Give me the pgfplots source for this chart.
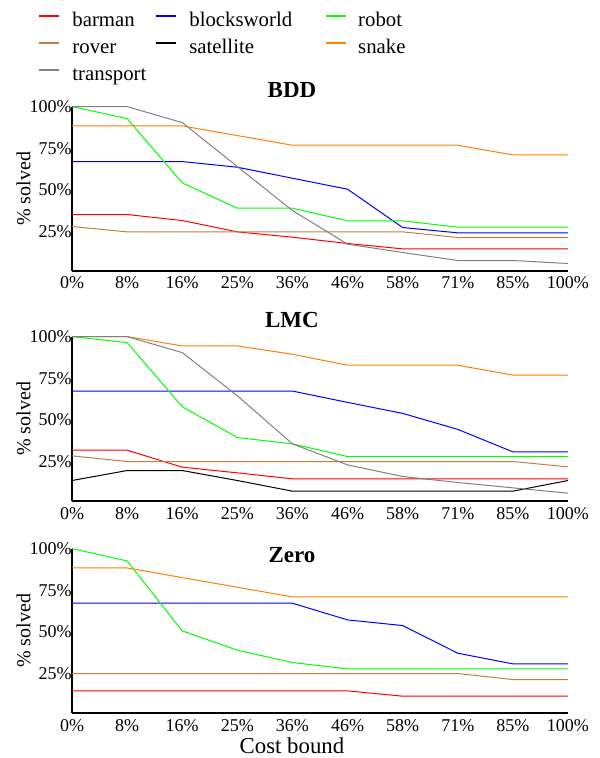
\documentclass[border=0pt]{standalone}
\usepackage{fontspec}
\setmainfont{Liberation Serif}
\usepackage{pgfplots}
\usepackage{pgfplotstable}
\pgfplotsset{compat=1.18}

% x: 0..9 = cost bound 0%,8%,16%,25%,36%,46%,58%,71%,85%,100%
\pgfplotstableread{
x barman blocks robot rover snake transport
0 35.2 67.0 100.0 28.0 88.4 100.0
1 35.2 67.0 92.8 24.8 88.4 100.0
2 31.6 67.0 54.2 24.8 88.4 90.4
3 24.8 63.6 39.0 24.8 82.6 64.0
4 21.6 57.0 39.0 24.8 76.8 37.6
5 17.8 50.4 31.4 24.8 76.8 17.4
6 14.6 27.4 31.4 24.8 76.8 12.4
7 14.6 24.2 27.6 21.4 76.8 7.6
8 14.6 24.2 27.6 21.4 71.0 7.6
9 14.6 24.2 27.6 21.4 71.0 5.8
}\bdd

\pgfplotstableread{
x barman blocks robot rover satellite snake transport
0 31.8 67.3 100.0 28.4 13.6 100.0 100.0
1 31.8 67.3 96.4 25.0 19.6 100.0 100.0
2 21.6 67.3 57.9 25.0 19.6 94.4 90.4
3 18.2 67.3 39.4 25.0 13.6 94.4 64.5
4 14.6 67.3 35.6 25.0 7.2 89.4 35.6
5 14.6 60.5 28.0 25.0 7.2 82.8 23.0
6 14.6 53.9 28.0 25.0 7.2 82.8 16.0
7 14.6 44.3 28.0 25.0 7.2 82.8 12.4
8 14.6 30.8 28.0 25.0 7.2 76.9 9.2
9 14.6 30.8 28.0 21.8 13.6 76.9 6.0
}\lmc

\pgfplotstableread{
x barman blocks robot rover snake
0 14.6 67.2 100.0 25.0 88.4
1 14.6 67.2 92.6 25.0 88.4
2 14.6 67.2 50.6 25.0 82.6
3 14.6 67.2 39.0 25.0 76.8
4 14.6 67.2 31.6 25.0 71.0
5 14.6 57.2 27.8 25.0 71.0
6 11.4 53.8 27.8 25.0 71.0
7 11.4 37.2 27.8 25.0 71.0
8 11.4 30.8 27.8 21.4 71.0
9 11.4 30.8 27.8 21.4 71.0
}\zero

\pgfplotsset{
  panel/.style={
    anchor=south west, scale only axis,
    width=248pt, height=82.2pt,
    xmin=0, xmax=9, ymin=1.3, ymax=100,
    axis lines*=left, clip=false,
    axis line style={line width=0.75pt},
    major tick length=0pt,
    xtick={0,...,9},
    xticklabels={0\%,8\%,16\%,25\%,36\%,46\%,58\%,71\%,85\%,100\%},
    ytick={25,50,75,100},
    yticklabels={25\%,50\%,75\%,100\%},
    tick label style={font=\fontsize{9}{10}\selectfont},
    xticklabel style={anchor=base, inner sep=0pt, yshift=-9pt},
    yticklabel style={anchor=east, inner sep=0pt},
    ylabel={\% solved},
    ylabel style={at={(-0.0978,0.5)}, anchor=center, font=\fontsize{10}{12}\selectfont},
    every axis title shift=0pt,
    title style={at={(0.4435,1.057)}, anchor=base, font=\bfseries\fontsize{11.5}{13}\selectfont},
    every axis plot/.append style={line width=0.5pt},
  },
}

\begin{document}
\begin{tikzpicture}
\useasboundingbox (0pt,0pt) rectangle (299.5pt,-379pt);

\begin{axis}[panel, at={(36pt,-135.5pt)}, title={BDD},
  legend columns=3, legend cell align=left,
  legend image code/.code={\draw[#1, line width=1pt] (0pt,2.5pt) -- (10pt,2.5pt);},
  legend style={at={(-0.0685,1.584)}, anchor=north west, draw=none, fill=none,
    inner sep=0pt, row sep=3pt, font=\fontsize{10.4}{12}\selectfont,
    nodes={inner sep=0pt, text height=8pt, text depth=2.5pt},
    /tikz/column 1/.style={column sep=6pt},
    /tikz/column 2/.style={column sep=4.5pt},
    /tikz/column 3/.style={column sep=6pt},
    /tikz/column 4/.style={column sep=16.5pt},
    /tikz/column 5/.style={column sep=5.5pt}},
]
\addplot[red] table[x=x, y=barman] {\bdd};
\addlegendentry{barman}
\addplot[blue] table[x=x, y=blocks] {\bdd};
\addlegendentry{blocksworld}
\addplot[green] table[x=x, y=robot] {\bdd};
\addlegendentry{robot}
\addplot[brown] table[x=x, y=rover] {\bdd};
\addlegendentry{rover}
\addlegendimage{black}
\addlegendentry{satellite}
\addplot[orange] table[x=x, y=snake] {\bdd};
\addlegendentry{snake}
\addplot[gray] table[x=x, y=transport] {\bdd};
\addlegendentry{transport}
\end{axis}

\begin{axis}[panel, at={(36pt,-250.5pt)}, title={LMC}, title style={at={(0.4435,1.055)}}]
\addplot[red] table[x=x, y=barman] {\lmc};
\addplot[blue] table[x=x, y=blocks] {\lmc};
\addplot[green] table[x=x, y=robot] {\lmc};
\addplot[brown] table[x=x, y=rover] {\lmc};
\addplot[black] table[x=x, y=satellite] {\lmc};
\addplot[orange] table[x=x, y=snake] {\lmc};
\addplot[gray] table[x=x, y=transport] {\lmc};
\end{axis}

\begin{axis}[panel, at={(36pt,-356.5pt)}, title={Zero}, title style={at={(0.4435,0.913)}},
  xlabel={Cost bound},
  xlabel style={at={(0.4435,-0.249)}, anchor=base, font=\fontsize{11.4}{13}\selectfont}]
\addplot[red] table[x=x, y=barman] {\zero};
\addplot[blue] table[x=x, y=blocks] {\zero};
\addplot[green] table[x=x, y=robot] {\zero};
\addplot[brown] table[x=x, y=rover] {\zero};
\addplot[orange] table[x=x, y=snake] {\zero};
\end{axis}
\end{tikzpicture}
\end{document}
